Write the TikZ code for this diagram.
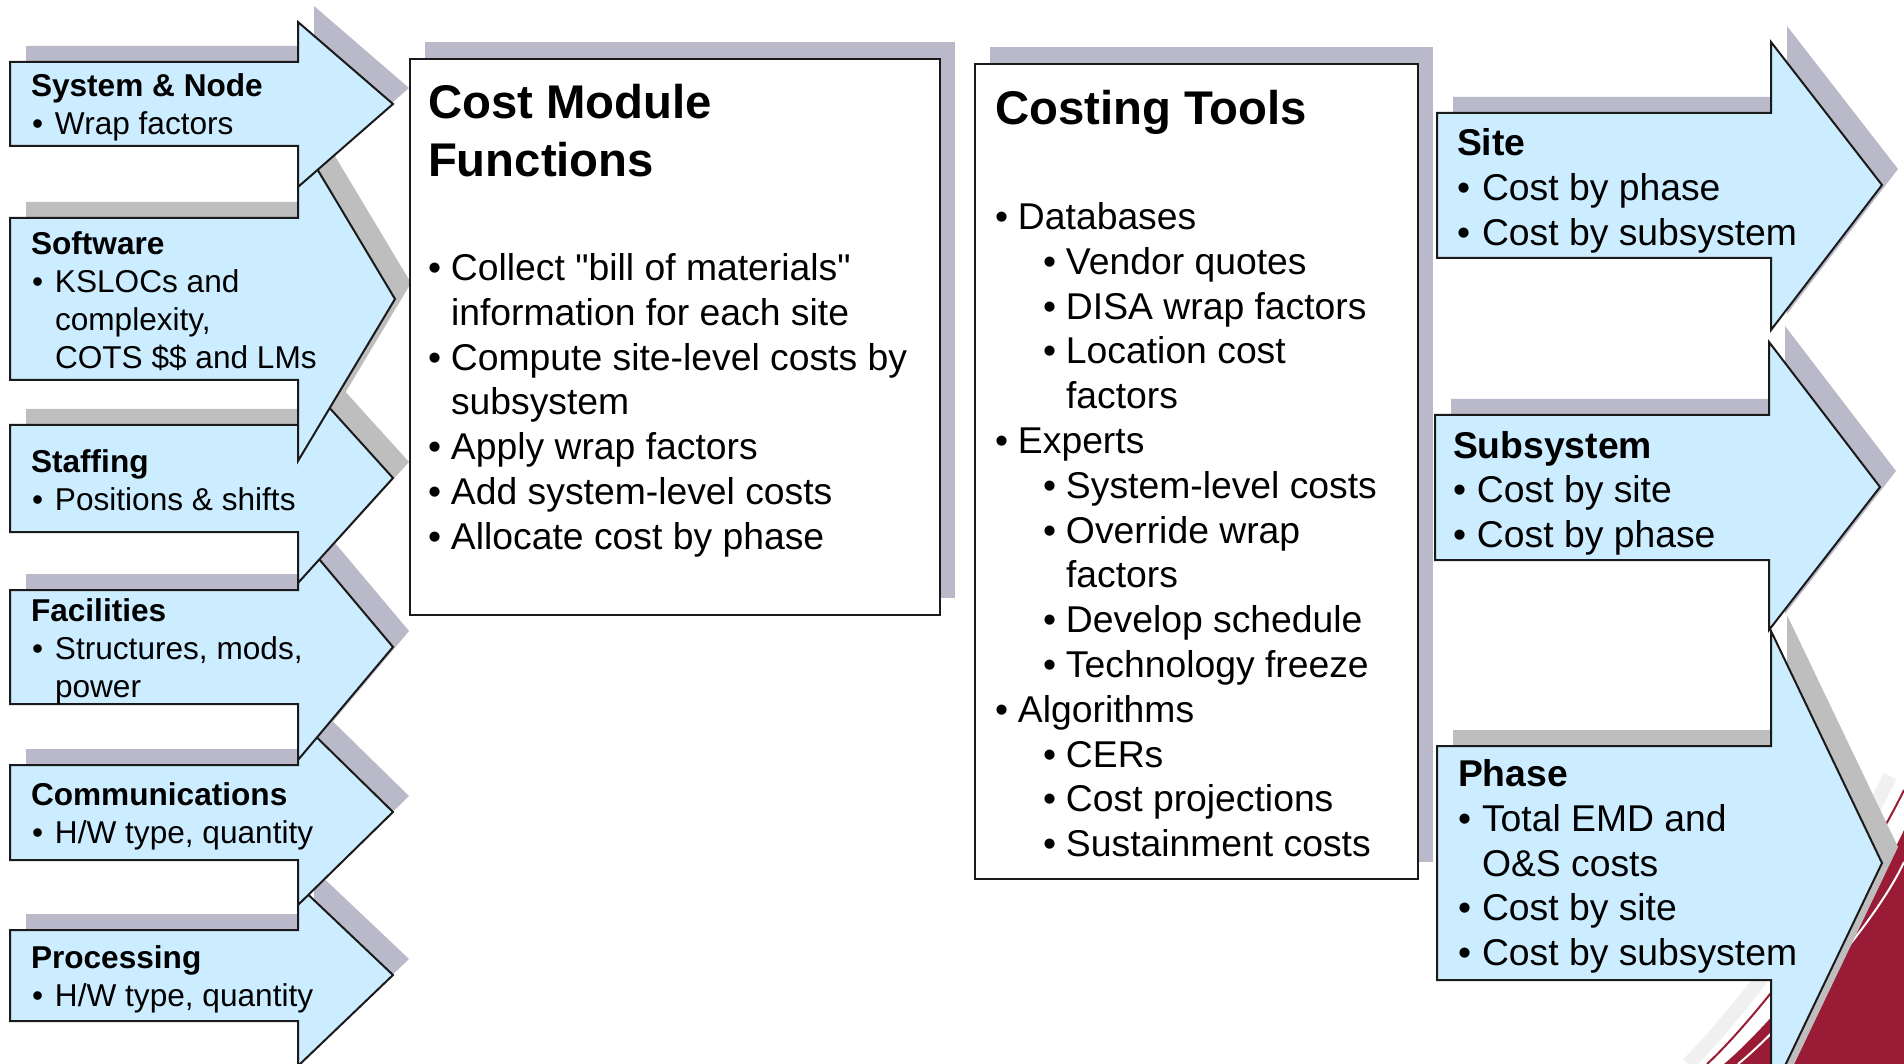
\documentclass[tikz,border=0pt]{standalone}
\usepackage{fontspec}
\setmainfont{Liberation Sans}
\font\straightq="Liberation Sans" at 37.3pt
\definecolor{arrowblue}{HTML}{CCECFF}
\definecolor{shadowblue}{HTML}{B9B9C9}
\definecolor{shadowgray}{HTML}{BEBEBE}
\definecolor{deepred}{HTML}{9A1B36}
\definecolor{outline}{HTML}{1A1A1A}
% args: style, L, T, B, R, HT, HB, X, Y
\newcommand\arrowshape[9]{\path[#1] (#2,#3) -- (#5,#3) -- (#5,#6) -- (#8,#9) -- (#5,#7) -- (#5,#4) -- (#2,#4) -- cycle;}
% bullet item: bullet offset, text offset, text
\newcommand\bitem[3]{\par\noindent\hangindent=#2pt\hangafter=1\hspace*{#1pt}\makebox[\dimexpr#2pt-#1pt\relax][l]{•}#3}
\newcommand\lefttext{\fontsize{31.6}{38}\selectfont}
\newcommand\boxtext{\fontsize{37.3}{44.8}\selectfont}
\newcommand\titletext{\fontsize{47.3}{57.3}\selectfont\bfseries}
\newcommand\sq{{\straightq"}}
\begin{document}
\begin{tikzpicture}[x=1pt,y=-1pt,
  arrowbody/.style={fill=arrowblue, draw=outline, line width=2pt, line join=miter},
  shadowA/.style={fill=shadowblue, shift={(16,-16)}},
  shadowB/.style={fill=shadowgray, shift={(16,-16)}},
  boxstyle/.style={fill=white, draw=outline, line width=2.4pt},
  txt/.style={anchor=base west, inner sep=0pt, outer sep=0pt}]
\useasboundingbox (0,0) rectangle (1904,1064);
\clip (0,0) rectangle (1904,1064);

% decorative corner
\draw[black!6, line width=14pt] (1688,1064) .. controls (1732,1022) and (1838,886) .. (1890,776);
\fill[deepred] (1724,1064) .. controls (1767,1028) and (1865,915) .. (1904,830) -- (1904,1064) -- cycle;
\draw[white, line width=2pt] (1738,1064) .. controls (1780,1030) and (1875,925) .. (1904,862);
\draw[deepred, line width=2pt] (1707,1064) .. controls (1750,1025) and (1850,900) .. (1904,790);

% shadows
\fill[shadowblue] (425,42) rectangle (955,598);
\fill[shadowblue] (990,47) rectangle (1433,862);
\arrowshape{shadowB}{1437}{746}{980}{1771}{631}{1095}{1882}{863}
\arrowshape{shadowA}{1435}{415}{560}{1769}{342}{630}{1880}{487}
\arrowshape{shadowA}{1437}{113}{258}{1771}{42}{330}{1882}{185}
\arrowshape{shadowA}{10}{930}{1021}{298}{885}{1066}{393}{975}
\arrowshape{shadowA}{10}{765}{860}{298}{719}{905}{393}{812}
\arrowshape{shadowA}{10}{590}{704}{298}{534}{760}{393}{647}
\arrowshape{shadowB}{10}{425}{532}{298}{373}{583}{393}{478}
\arrowshape{shadowB}{10}{218}{380}{298}{137}{461}{395}{299}
\arrowshape{shadowA}{10}{62}{146}{298}{22}{187}{393}{104}

% boxes
\node[boxstyle, anchor=north west, minimum width=530pt, minimum height=556pt, inner sep=0pt] (cmbox) at (409,58) {};
\node[boxstyle, anchor=north west, minimum width=443pt, minimum height=815pt, inner sep=0pt] (ctbox) at (974,63) {};

% right arrows
\arrowshape{arrowbody}{1437}{746}{980}{1771}{631}{1095}{1882}{863}
\arrowshape{arrowbody}{1435}{415}{560}{1769}{342}{630}{1880}{487}
\arrowshape{arrowbody}{1437}{113}{258}{1771}{42}{330}{1882}{185}

% left arrows (upper ones in front)
\arrowshape{arrowbody}{10}{930}{1021}{298}{885}{1066}{393}{975}
\arrowshape{arrowbody}{10}{765}{860}{298}{719}{905}{393}{812}
\arrowshape{arrowbody}{10}{590}{704}{298}{534}{760}{393}{647}
\arrowshape{arrowbody}{10}{425}{532}{298}{373}{583}{393}{478}
\arrowshape{arrowbody}{10}{218}{380}{298}{137}{461}{395}{299}
\arrowshape{arrowbody}{10}{62}{146}{298}{22}{187}{393}{104}

% left arrow texts
\node[txt] (tsys) at (31,96.3) {\parbox[t]{360pt}{\lefttext\noindent\textbf{System \& Node}\bitem{1}{24}{Wrap factors}}};
\node[txt] (tsw) at (31,254.5) {\parbox[t]{360pt}{\lefttext\noindent\textbf{Software}\bitem{1}{24}{KSLOCs and\newline complexity,\newline COTS \$\$ and LMs}}};
\node[txt] (tstaff) at (31,472) {\parbox[t]{360pt}{\lefttext\noindent\textbf{Staffing}\bitem{1}{24}{Positions \& shifts}}};
\node[txt] (tfac) at (31,621.5) {\parbox[t]{360pt}{\lefttext\noindent\textbf{Facilities}\bitem{1}{24}{Structures, mods,\newline power}}};
\node[txt] (tcom) at (31,805) {\parbox[t]{360pt}{\lefttext\noindent\textbf{Communications}\bitem{1}{24}{H/W type, quantity}}};
\node[txt] (tproc) at (31,968.5) {\parbox[t]{360pt}{\lefttext\noindent\textbf{Processing}\bitem{1}{24}{H/W type, quantity}}};

% cost module box texts
\node[txt] (cmtitle) at (428,119) {\parbox[t]{600pt}{\titletext\noindent Cost Module\newline Functions}};
\node[txt] (cmbody) at (428,280.6) {\parbox[t]{600pt}{\boxtext
  \bitem{0}{23}{Collect \sq bill of materials\sq\newline information for each site}
  \bitem{0}{23}{Compute site-level costs by\newline subsystem}
  \bitem{0}{23}{Apply wrap factors}
  \bitem{0}{23}{Add system-level costs}
  \bitem{0}{23}{Allocate cost by phase}}};

% costing tools texts
\node[txt] (cttitle) at (995,124.5) {\parbox[t]{600pt}{\titletext\noindent Costing Tools}};
\node[txt] (ctbody) at (995,229.5) {\parbox[t]{600pt}{\boxtext
  \bitem{0}{23}{Databases}
  \bitem{48}{71}{Vendor quotes}
  \bitem{48}{71}{DISA wrap factors}
  \bitem{48}{71}{Location cost\newline factors}
  \bitem{0}{23}{Experts}
  \bitem{48}{71}{System-level costs}
  \bitem{48}{71}{Override wrap\newline factors}
  \bitem{48}{71}{Develop schedule}
  \bitem{48}{71}{Technology freeze}
  \bitem{0}{23}{Algorithms}
  \bitem{48}{71}{CERs}
  \bitem{48}{71}{Cost projections}
  \bitem{48}{71}{Sustainment costs}}};

% right arrow texts
\node[txt] (tsite) at (1457,155.5) {\parbox[t]{500pt}{\boxtext\noindent\textbf{Site}\bitem{0}{25}{Cost by phase}\bitem{0}{25}{Cost by subsystem}}};
\node[txt] (tsub) at (1453,458) {\parbox[t]{500pt}{\boxtext\noindent\textbf{Subsystem}\bitem{0}{24}{Cost by site}\bitem{0}{24}{Cost by phase}}};
\node[txt] (tphase) at (1458,786.5) {\parbox[t]{500pt}{\boxtext\noindent\textbf{Phase}\bitem{0}{24}{Total EMD and\newline O\&S costs}\bitem{0}{24}{Cost by site}\bitem{0}{24}{Cost by subsystem}}};
\end{tikzpicture}
\end{document}
